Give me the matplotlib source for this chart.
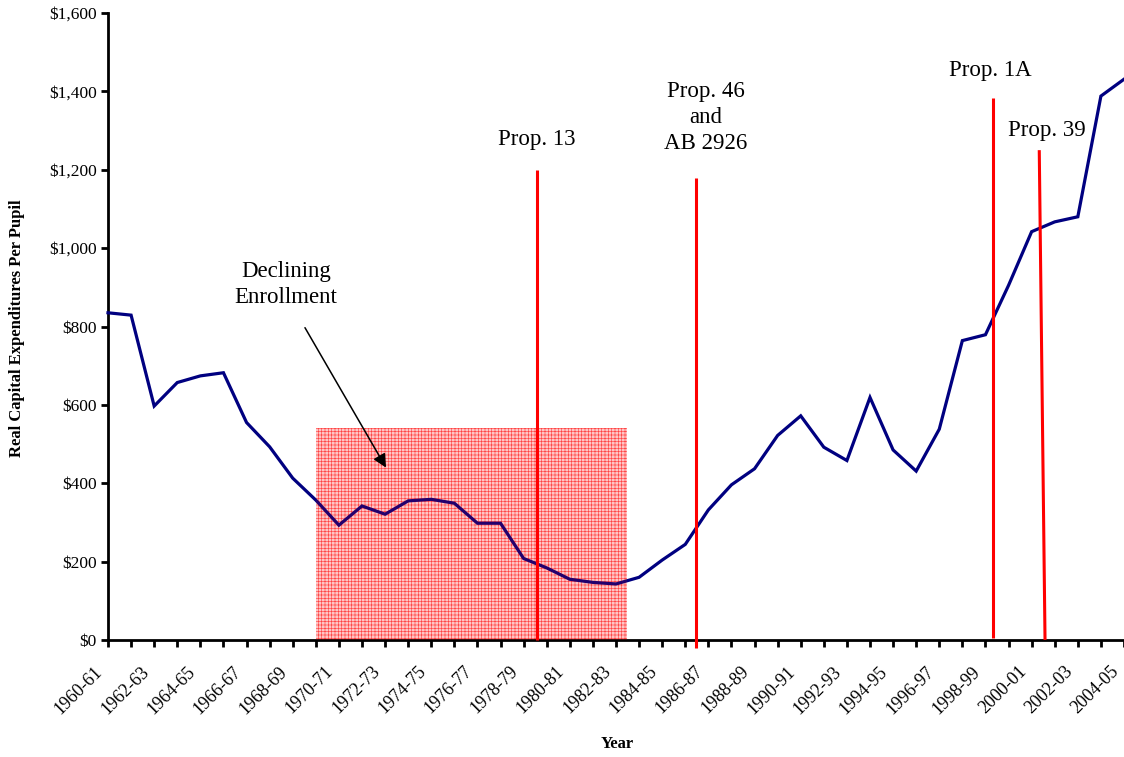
#!/usr/bin/env python
# -*- coding: utf-8 -*-

"""
Real capital expenditures per pupil, 1960-61 to 2004-05.
"""

import matplotlib
matplotlib.use("Agg")
import matplotlib.pyplot as plt
from matplotlib.patches import Rectangle
from matplotlib.ticker import FuncFormatter, MultipleLocator, NullFormatter
from matplotlib.transforms import ScaledTranslation

#...the school years (one per category on the x axis).
years = ["1960-61", "1961-62", "1962-63", "1963-64", "1964-65", "1965-66",
         "1966-67", "1967-68", "1968-69", "1969-70", "1970-71", "1971-72",
         "1972-73", "1973-74", "1974-75", "1975-76", "1976-77", "1977-78",
         "1978-79", "1979-80", "1980-81", "1981-82", "1982-83", "1983-84",
         "1984-85", "1985-86", "1986-87", "1987-88", "1988-89", "1989-90",
         "1990-91", "1991-92", "1992-93", "1993-94", "1994-95", "1995-96",
         "1996-97", "1997-98", "1998-99", "1999-00", "2000-01", "2001-02",
         "2002-03", "2003-04", "2004-05"]

#...real capital expenditures per pupil (dollars).
spend = [835, 829, 597, 657, 674, 682, 555, 493, 413, 357,
         293, 342, 321, 355, 359, 349, 298, 298, 208, 184,
         155, 147, 143, 160, 204, 244, 332, 396, 437, 522,
         572, 492, 458, 619, 485, 431, 538, 764, 779, 905,
         1042, 1067, 1080, 1388, 1431]

#...the policy markers (category position of top and bottom, height).
prop_names = ["Prop. 13", "Prop. 46\nand\nAB 2926", "Prop. 1A", "Prop. 39"]
prop_x_top = [18.58, 25.45, 38.33, 40.33]
prop_x_bot = [18.58, 25.45, 38.33, 40.58]
prop_top = [1200, 1180, 1382, 1250]
prop_bot = [0, -20, 5, 0]

#...the declining enrollment period.
decline_start, decline_end, decline_height = 9.0, 22.48, 540

serif = "Liberation Serif"
plt.rcParams["font.family"] = serif
plt.rcParams["hatch.linewidth"] = 0.45

fig = plt.figure(figsize=(11.24, 7.57), dpi=100, facecolor="w")
ax = fig.add_axes([108 / 1124., 117 / 757., 1 - 108 / 1124., (640 - 13) / 757.])

x = list(range(len(years)))

# The hatched box sits under the line...
box = Rectangle((decline_start, 0), decline_end - decline_start, decline_height,
                facecolor=(1, 0.9, 0.9), edgecolor=(1, 0.3, 0.3),
                hatch="+++++", lw=0, zorder=2)
ax.add_patch(box)

# The main series.
ax.plot(x, spend, color="#000080", lw=2.3, zorder=3, clip_on=False,
        solid_joinstyle="miter")

#...and a light red wash goes over it, tinting the line purple.
wash = Rectangle((decline_start, 0), decline_end - decline_start, decline_height,
                 facecolor=(1, 0, 0, 0.14), lw=0, zorder=4)
ax.add_patch(wash)

ax.annotate("", xy=(12.04, 440), xytext=(8.53, 797),
            arrowprops=dict(arrowstyle="-|>", color="black", lw=1.1,
                            mutation_scale=20, shrinkA=0, shrinkB=0),
            zorder=6)
ax.text(7.71, 908, "Declining\nEnrollment", ha="center", va="center",
        fontsize=16.5, linespacing=1.3)

# The vertical red lines for the propositions.
for xt, xb, yt, yb in zip(prop_x_top, prop_x_bot, prop_top, prop_bot):
    ax.plot([xb, xt], [yb, yt], color="#ff0000", lw=2.2, zorder=5,
            clip_on=False, solid_capstyle="butt")

label_pos = [(18.58, 1276), (25.9, 1334), (38.2, 1454), (40.67, 1301)]
for name, (lx, ly) in zip(prop_names, label_pos):
    ax.text(lx, ly, name, ha="center", va="center", fontsize=16.5,
            linespacing=1.3)

# Axis limits, ticks and labels.
ax.set_xlim(0, len(years) - 1)
ax.set_ylim(0, 1600)

# Tick marks on every year, labels on every other one (drawn by hand so
# that they can sit a touch left of the tick, like the original).
ax.set_xticks(x)
ax.xaxis.set_major_formatter(NullFormatter())
shift = ScaledTranslation(-14 / 100., -23 / 100., fig.dpi_scale_trans)
for i, yr in enumerate(years):
    if i % 2 == 0:
        ax.text(i, 0, yr, transform=ax.get_xaxis_transform() + shift,
                rotation=45, ha="right", va="top", rotation_mode="anchor",
                fontsize=13, clip_on=False)

ax.yaxis.set_major_locator(MultipleLocator(200))
ax.yaxis.set_major_formatter(FuncFormatter(lambda v, p: "${:,.0f}".format(v)))
ax.tick_params(axis="y", labelsize=12.5, length=5, width=2, pad=3,
               direction="out")
ax.tick_params(axis="x", length=5, width=2, direction="out")

for side in ["top", "right"]:
    ax.spines[side].set_visible(False)
for side in ["left", "bottom"]:
    ax.spines[side].set_linewidth(2)

fig.text(617 / 1124., 1 - 744 / 757., "Year", ha="center", va="center",
         fontsize=12, fontweight="bold")
fig.text(17 / 1124., 1 - 328 / 757., "Real Capital Expenditures Per Pupil",
         ha="center", va="center", rotation=90, fontsize=12,
         fontweight="bold")

fig.savefig("out.png", dpi=100)
